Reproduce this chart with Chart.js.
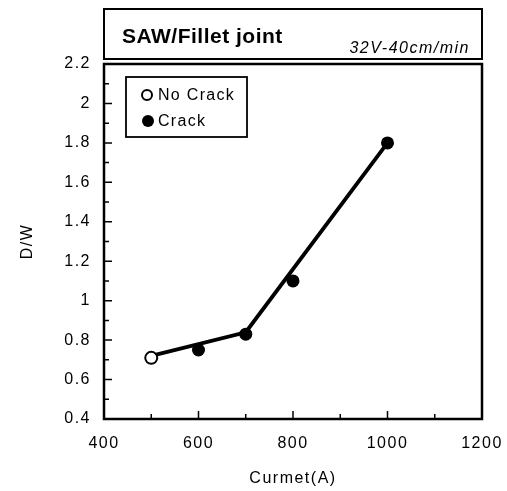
<!DOCTYPE html>
<html>
<head>
<meta charset="utf-8">
<script src="https://cdn.jsdelivr.net/npm/chart.js@4"></script>
<style>
html,body{margin:0;padding:0;background:#fff;}
#wrap{position:relative;width:507px;height:491px;}
</style>
</head>
<body>
<div id="wrap"><canvas id="c" width="507" height="491"></canvas></div>
<script>
// ---- data ----
const chartTitle = "SAW/Fillet joint";
const chartSubtitle = "32V-40cm/min";
const xTitle = "Curmet(A)";
const yTitle = "D/W";
const seriesNames = ["No Crack", "Crack"];
const noCrackX = [500];
const noCrackY = [0.71];
const crackX = [600, 700, 800, 1000];
const crackY = [0.75, 0.83, 1.1, 1.8];
const fitX = [500, 700, 1000];
const fitY = [0.72, 0.84, 1.8];
const xMajorTicks = [400, 600, 800, 1000, 1200];
const xMinorTicks = [500, 700, 900, 1100];
const yMajorTicks = [0.4, 0.6, 0.8, 1, 1.2, 1.4, 1.6, 1.8, 2, 2.2];
const yMinorTicks = [0.5, 0.7, 0.9, 1.1, 1.3, 1.5, 1.7, 1.9, 2.1];

const pts = (xs, ys) => xs.map((x, i) => ({x: x, y: ys[i]}));
const FONT = "'Liberation Sans', Arial, Helvetica, sans-serif";

const spacingPlugin = {
  id: 'spacing',
  beforeDraw(chart) { chart.ctx.letterSpacing = '1.5px'; }
};

const framePlugin = {
  id: 'frame',
  afterDraw(chart) {
    const ctx = chart.ctx;
    const a = chart.chartArea;
    const xs = chart.scales.x, ys = chart.scales.y;
    ctx.save();
    ctx.strokeStyle = '#000';
    // plot frame
    ctx.lineWidth = 2.5;
    ctx.strokeRect(a.left, a.top, a.right - a.left, a.bottom - a.top);
    // inward ticks
    ctx.lineWidth = 1.5;
    ctx.beginPath();
    xMajorTicks.forEach(v => { const p = xs.getPixelForValue(v); ctx.moveTo(p, a.bottom); ctx.lineTo(p, a.bottom - 8); });
    xMinorTicks.forEach(v => { const p = xs.getPixelForValue(v); ctx.moveTo(p, a.bottom); ctx.lineTo(p, a.bottom - 5); });
    yMajorTicks.forEach(v => { const p = ys.getPixelForValue(v); ctx.moveTo(a.left, p); ctx.lineTo(a.left + 8, p); });
    yMinorTicks.forEach(v => { const p = ys.getPixelForValue(v); ctx.moveTo(a.left, p); ctx.lineTo(a.left + 5, p); });
    ctx.stroke();
    // title box
    const tTop = 9, tBot = 59;
    ctx.lineWidth = 2;
    ctx.strokeRect(a.left, tTop, a.right - a.left, tBot - tTop);
    ctx.fillStyle = '#000';
    ctx.textBaseline = 'alphabetic';
    ctx.textAlign = 'left';
    ctx.letterSpacing = '0.5px';
    ctx.font = "bold 21px " + FONT;
    ctx.fillText(chartTitle, a.left + 18, 43);
    ctx.textAlign = 'right';
    ctx.letterSpacing = '1.5px';
    ctx.font = "italic 16px " + FONT;
    ctx.fillText(chartSubtitle, a.right - 12, 53);
    // legend box
    const lx = 126, ly = 77, lw = 121, lh = 60;
    ctx.lineWidth = 1.8;
    ctx.strokeRect(lx, ly, lw, lh);
    ctx.font = "16px " + FONT;
    ctx.textAlign = 'left';
    ctx.textBaseline = 'middle';
    ctx.letterSpacing = '1.3px';
    // open circle
    ctx.beginPath(); ctx.arc(lx + 21, ly + 18, 5, 0, Math.PI * 2);
    ctx.lineWidth = 2; ctx.fillStyle = '#fff'; ctx.fill(); ctx.stroke();
    ctx.fillStyle = '#000';
    ctx.fillText(seriesNames[0], lx + 32, ly + 19);
    ctx.beginPath(); ctx.arc(lx + 22, ly + 44, 6, 0, Math.PI * 2); ctx.fill();
    ctx.fillText(seriesNames[1], lx + 32, ly + 45);
    ctx.restore();
  }
};

new Chart(document.getElementById('c'), {
  type: 'scatter',
  data: {
    datasets: [
      { label: 'fit', data: pts(fitX, fitY), showLine: true, borderColor: '#000', borderWidth: 3.8, pointRadius: 0, fill: false, order: 3 },
      { label: seriesNames[0], data: pts(noCrackX, noCrackY), pointRadius: 6, pointBackgroundColor: '#fff', pointBorderColor: '#000', pointBorderWidth: 2, order: 1 },
      { label: seriesNames[1], data: pts(crackX, crackY), pointRadius: 6.5, pointBackgroundColor: '#000', pointBorderColor: '#000', pointBorderWidth: 0, order: 2 }
    ]
  },
  options: {
    responsive: false,
    animation: false,
    layout: { padding: { top: 64, right: 25, left: 0, bottom: 0 } },
    plugins: { legend: { display: false }, tooltip: { enabled: false }, title: { display: false } },
    scales: {
      x: {
        type: 'linear', min: 400, max: 1200,
        afterFit(s) { s.height = 72; s.paddingLeft = 0; s.paddingRight = 0; },
        afterBuildTicks(s) { s.ticks = xMajorTicks.map(v => ({value: v})); },
        grid: { display: false, drawTicks: false },
        border: { display: false },
        ticks: { color: '#000', padding: 15, font: { family: FONT, size: 16 }, callback: v => String(v) },
        title: { display: true, text: xTitle, color: '#000', font: { family: FONT, size: 16 }, padding: { top: 0, bottom: 3 } }
      },
      y: {
        type: 'linear', min: 0.4, max: 2.2,
        afterFit(s) { s.width = 104; s.paddingTop = 0; s.paddingBottom = 0; },
        afterBuildTicks(s) { s.ticks = yMajorTicks.map(v => ({value: v})); },
        grid: { display: false, drawTicks: false },
        border: { display: false },
        ticks: { color: '#000', padding: 13, font: { family: FONT, size: 16 }, callback: v => String(Number(v.toFixed(1))) },
        title: { display: true, text: yTitle, color: '#000', font: { family: FONT, size: 16 }, padding: { top: 18, bottom: 0 } }
      }
    }
  },
  plugins: [spacingPlugin, framePlugin]
});
</script>
</body>
</html>
